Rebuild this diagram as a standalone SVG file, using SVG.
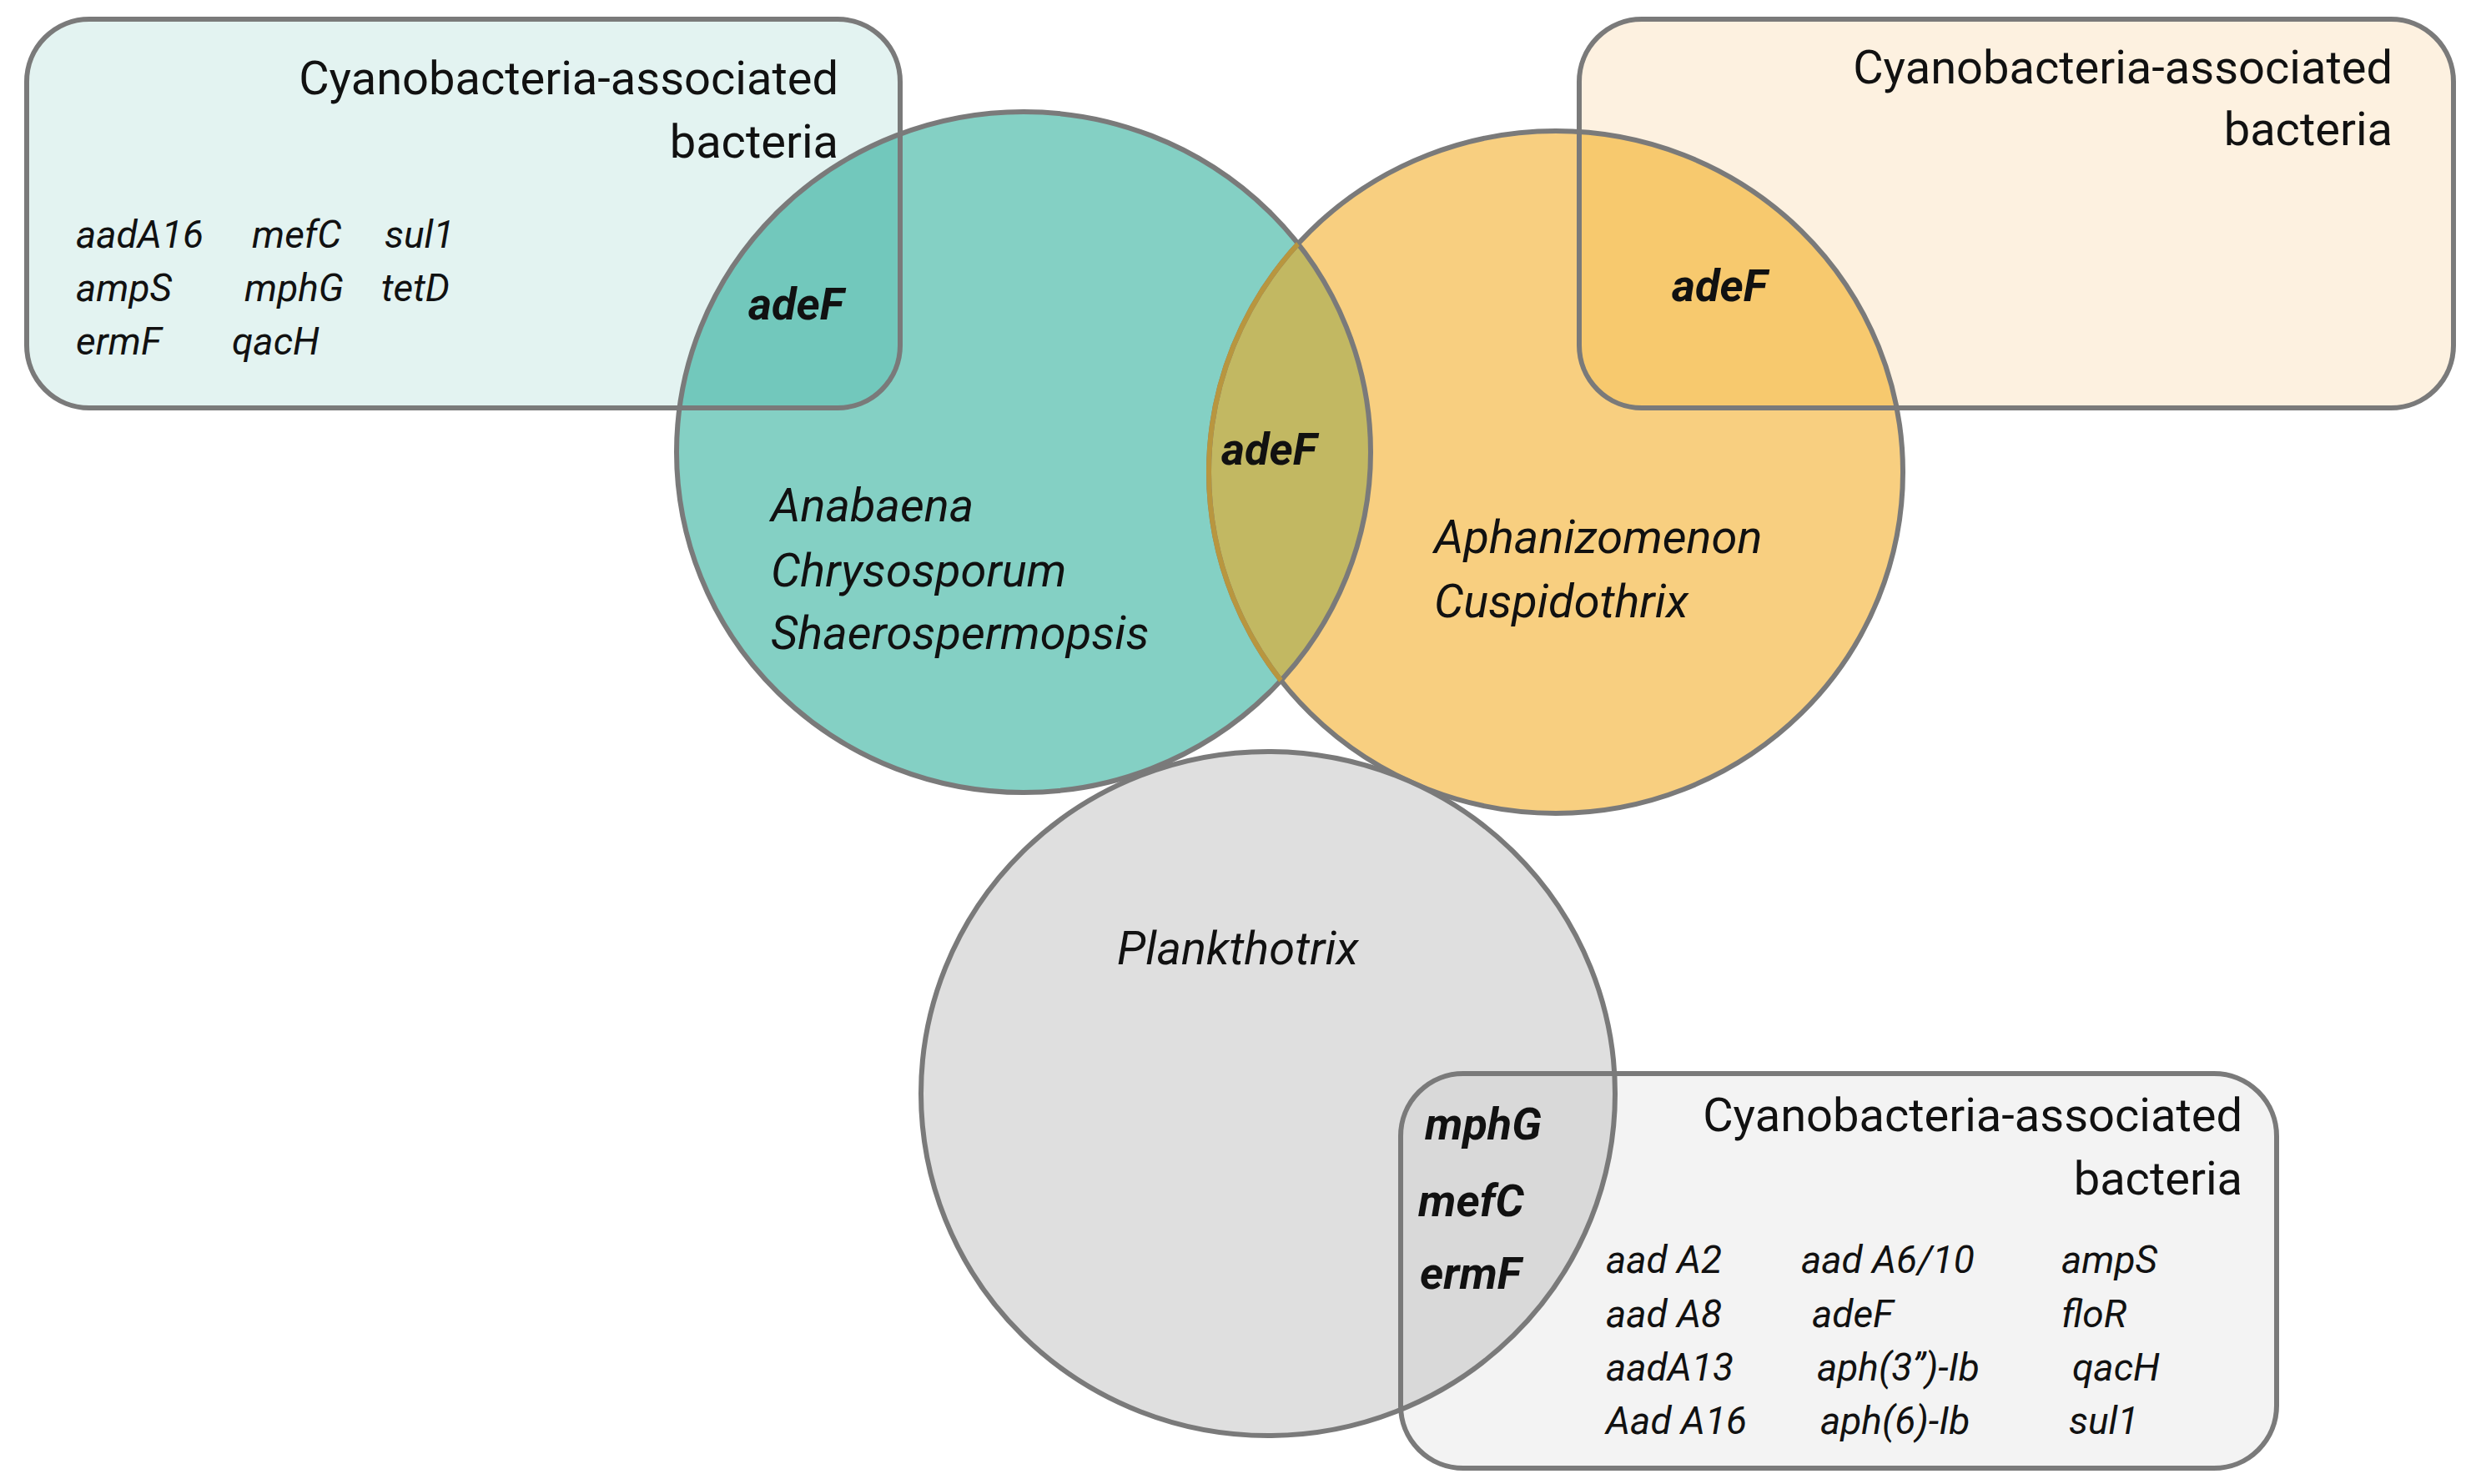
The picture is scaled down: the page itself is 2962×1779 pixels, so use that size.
<svg xmlns="http://www.w3.org/2000/svg" width="2962" height="1779" viewBox="0 0 2962 1779">
<style>
.s{stroke:#7a7a7a;stroke-width:6}
.t{font-family:Roboto,"Liberation Sans",sans-serif;font-size:56px;fill:#111}
.g{font-family:Roboto,"Liberation Sans",sans-serif;font-size:46px;font-style:italic;fill:#111}
.sp{font-family:Roboto,"Liberation Sans",sans-serif;font-size:56px;font-style:italic;fill:#111}
.b{font-family:Roboto,"Liberation Sans",sans-serif;font-size:54px;font-style:italic;font-weight:bold;fill:#111}
</style>
<defs>
<ellipse id="eT" cx="1227" cy="542" rx="416" ry="408"/>
<ellipse id="eO" cx="1865" cy="566" rx="416" ry="409"/>
<ellipse id="eG" cx="1520" cy="1311" rx="416" ry="410"/>
<rect id="rL" x="32" y="23" width="1047" height="466" rx="75"/>
<rect id="rR" x="1893" y="23" width="1048" height="466" rx="75"/>
<rect id="rB" x="1679" y="1287" width="1050" height="473" rx="75"/>
<clipPath id="cT"><use href="#eT"/></clipPath>
<clipPath id="cO"><use href="#eO"/></clipPath>
<clipPath id="cG"><use href="#eG"/></clipPath>
</defs>
<g id="teal">
<use href="#rL" fill="#e3f3f1"/>
<use href="#eT" fill="#84d0c4"/>
<use href="#rL" fill="#72c8bc" clip-path="url(#cT)"/>
</g>
<g id="orange">
<use href="#rR" fill="#fdf1e0"/>
<use href="#eO" fill="#f8cf80"/>
<use href="#rR" fill="#f7c96e" clip-path="url(#cO)"/>
<use href="#eO" fill="#c2b862" clip-path="url(#cT)"/>
</g>
<g id="strokes1" fill="none">
<use href="#rL" class="s"/>
<use href="#eT" class="s"/>
<use href="#rR" class="s"/>
<use href="#eO" class="s"/>
<use href="#eO" class="s" style="stroke:#b8963f" clip-path="url(#cT)"/>
</g>
<g id="gray">
<use href="#eG" fill="#dfdfdf"/>
<use href="#rB" fill="#f3f3f3"/>
<use href="#rB" fill="#d9d9d9" clip-path="url(#cG)"/>
<use href="#eG" fill="none" class="s"/>
<use href="#rB" fill="none" class="s"/>
</g>
<g id="labels">
<text class="t" x="1005" y="113" text-anchor="end">Cyanobacteria-associated</text>
<text class="t" x="1005" y="189" text-anchor="end">bacteria</text>
<text class="g" x="91" y="297">aadA16</text><text class="g" x="302" y="297">mefC</text><text class="g" x="461" y="297">sul1</text>
<text class="g" x="91" y="361">ampS</text><text class="g" x="293" y="361">mphG</text><text class="g" x="457" y="361">tetD</text>
<text class="g" x="91" y="425">ermF</text><text class="g" x="278" y="425">qacH</text>
<text class="b" x="897" y="383">adeF</text>
<text class="b" x="1464" y="557">adeF</text>
<text class="b" x="2004" y="361">adeF</text>
<text class="sp" x="924" y="625">Anabaena</text>
<text class="sp" x="924" y="703">Chrysosporum</text>
<text class="sp" x="924" y="778">Shaerospermopsis</text>
<text class="sp" x="1719" y="663">Aphanizomenon</text>
<text class="sp" x="1719" y="740">Cuspidothrix</text>
<text class="t" x="2868" y="100" text-anchor="end">Cyanobacteria-associated</text>
<text class="t" x="2868" y="174" text-anchor="end">bacteria</text>
<text class="sp" x="1339" y="1156">Plankthotrix</text>
<text class="t" x="2688" y="1356" text-anchor="end">Cyanobacteria-associated</text>
<text class="t" x="2688" y="1432" text-anchor="end">bacteria</text>
<text class="b" x="1708" y="1366">mphG</text>
<text class="b" x="1700" y="1458">mefC</text>
<text class="b" x="1702" y="1545">ermF</text>
<text class="g" x="1925" y="1526">aad A2</text><text class="g" x="2159" y="1526">aad A6/10</text><text class="g" x="2471" y="1526">ampS</text>
<text class="g" x="1925" y="1591">aad A8</text><text class="g" x="2172" y="1591">adeF</text><text class="g" x="2471" y="1591">floR</text>
<text class="g" x="1925" y="1655">aadA13</text><text class="g" x="2178" y="1655">aph(3’’)-Ib</text><text class="g" x="2484" y="1655">qacH</text>
<text class="g" x="1925" y="1719">Aad A16</text><text class="g" x="2182" y="1719">aph(6)-Ib</text><text class="g" x="2480" y="1719">sul1</text>
</g>
</svg>
